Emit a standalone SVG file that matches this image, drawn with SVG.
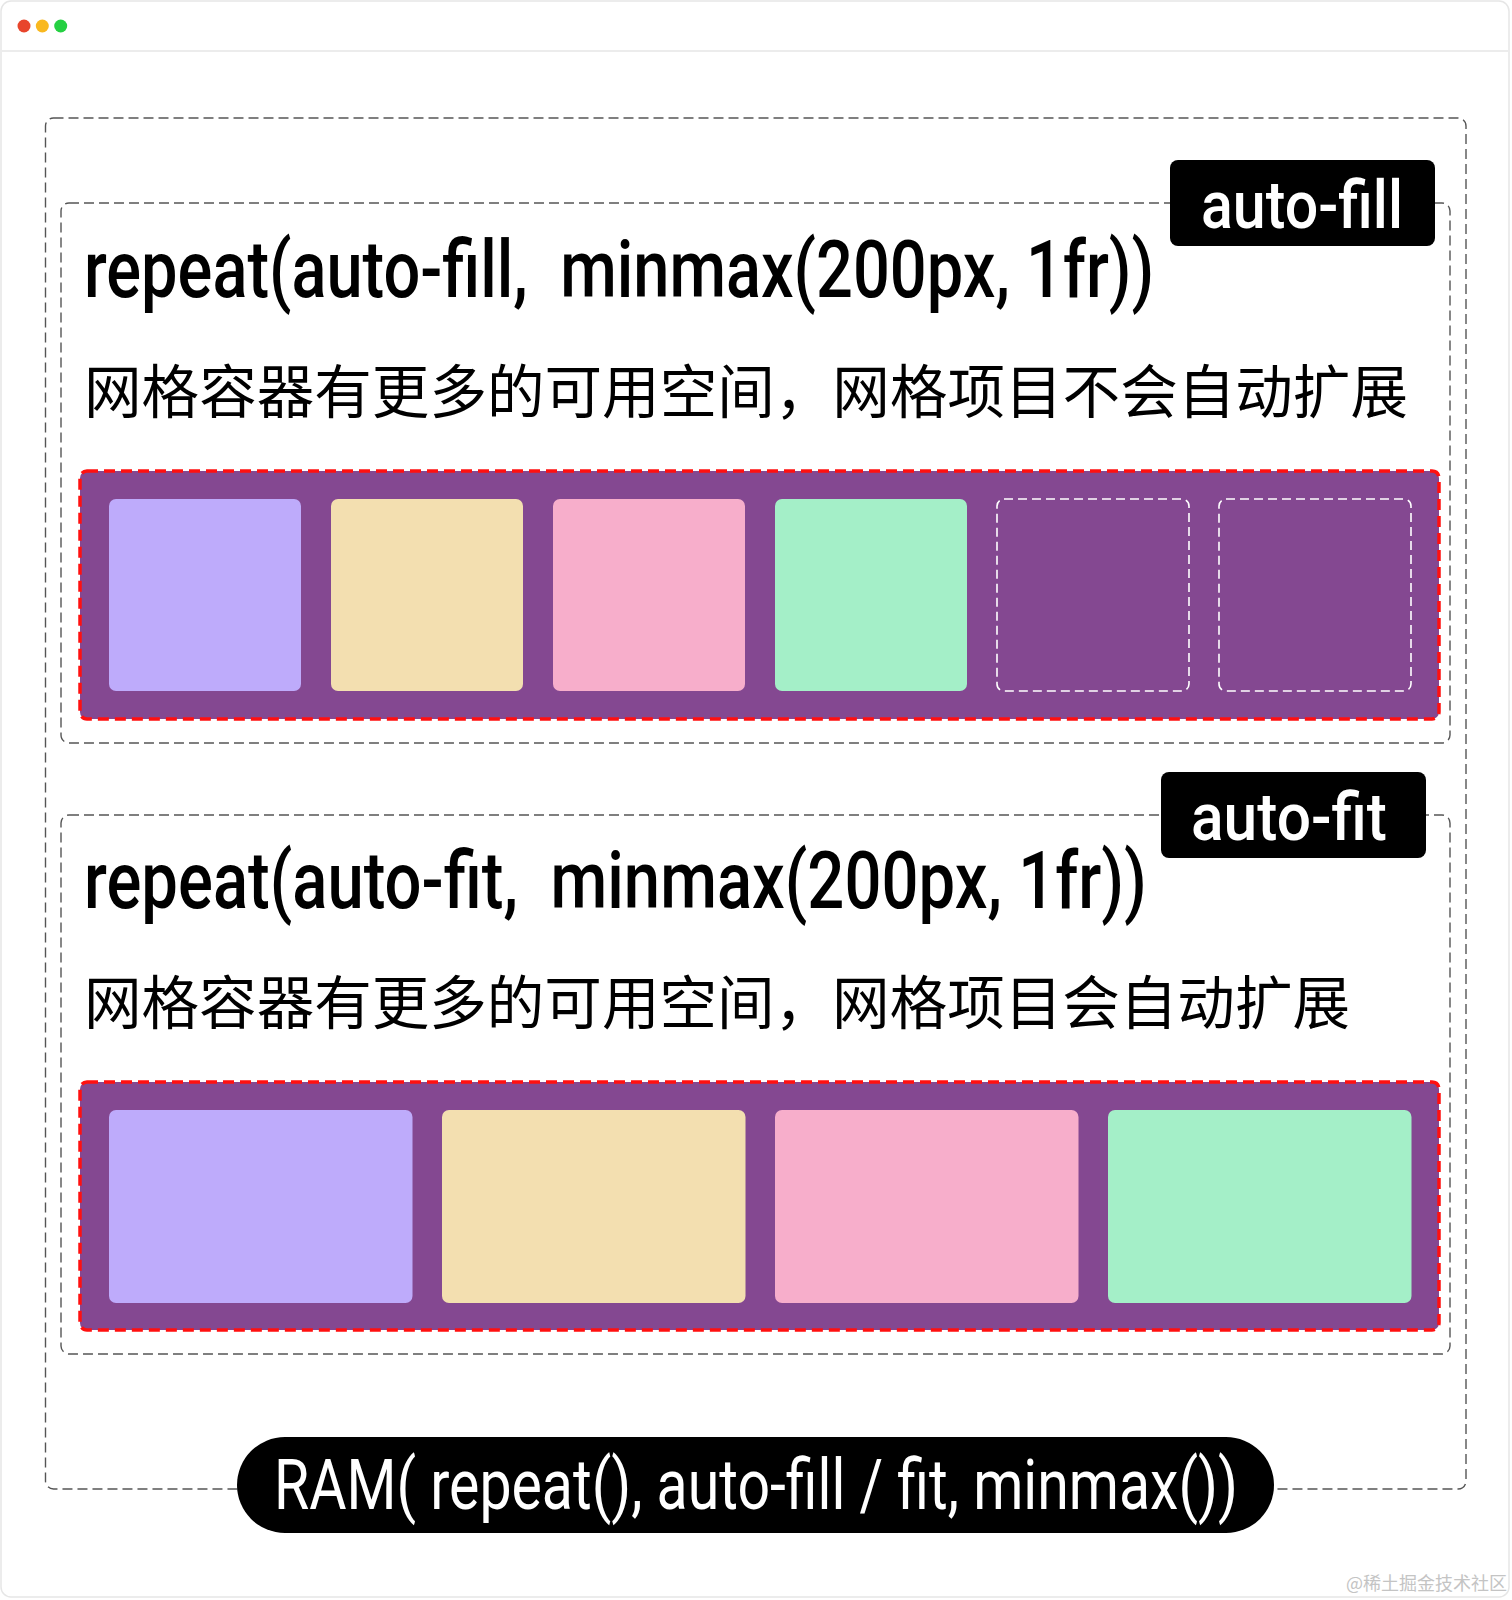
<svg xmlns="http://www.w3.org/2000/svg" width="1512" height="1600" viewBox="0 0 1512 1600">
<style>
.frame{fill:none;stroke:#555;stroke-width:1.4;stroke-dasharray:10 5}
.grid{fill:#844891;stroke:#ff1010;stroke-width:3.5;stroke-dasharray:11 6}
.cell{stroke:none}
.empty{fill:none;stroke:#fff;stroke-width:1.6;stroke-dasharray:9 5}
.c1{fill:#beabfb}.c2{fill:#f3dfb0}.c3{fill:#f7aecb}.c4{fill:#a4efc8}
.title{font-family:Roboto,"Liberation Sans",sans-serif;font-size:80px;font-weight:500;fill:#000}
.zh{font-family:"Noto Sans CJK SC","Noto Sans",sans-serif;font-size:58px;fill:#000}
.lab{font-family:Roboto,"Liberation Sans",sans-serif;font-size:66px;font-weight:500;fill:#fff}
.pill{font-family:Roboto,"Liberation Sans",sans-serif;font-size:70px;font-weight:400;fill:#fff}
</style>
<rect x="0" y="0" width="1512" height="1600" fill="#fff"/>
<g id="window">
<rect x="1" y="1" width="1508" height="1596" rx="10" fill="#fff" stroke="#e6e6e6" stroke-width="1.5"/>
<line x1="1" y1="51" x2="1509" y2="51" stroke="#ececec" stroke-width="2"/>
<circle cx="24" cy="26" r="6.5" fill="#e8452c"/>
<circle cx="42.3" cy="26" r="6.5" fill="#f9b81f"/>
<circle cx="60.7" cy="26" r="6.5" fill="#25d042"/>
</g>
<g id="outer-frame">
<rect class="frame" x="45.5" y="118" width="1420.5" height="1371" rx="8"/>
</g>
<g id="section-auto-fill">
<rect class="frame" x="61" y="203" width="1389" height="540" rx="8"/>
<text class="title" transform="translate(84,297) scale(0.822,1)" x="0" y="0" textLength="1302" lengthAdjust="spacingAndGlyphs" xml:space="preserve">repeat(auto-fill,  minmax(200px, 1fr))</text>
<text class="zh" x="84" y="413" textLength="1324" lengthAdjust="spacingAndGlyphs">网格容器有更多的可用空间，网格项目不会自动扩展</text>
<rect class="grid" x="80" y="471" width="1359" height="248" rx="7"/>
<rect class="cell c1" x="109" y="499" width="192" height="192" rx="7"/>
<rect class="cell c2" x="331" y="499" width="192" height="192" rx="7"/>
<rect class="cell c3" x="553" y="499" width="192" height="192" rx="7"/>
<rect class="cell c4" x="775" y="499" width="192" height="192" rx="7"/>
<rect class="empty" x="997" y="499" width="192" height="192" rx="7"/>
<rect class="empty" x="1219" y="499" width="192" height="192" rx="7"/>
</g>
<g id="label-auto-fill">
<rect x="1170" y="160" width="265" height="86" rx="8" fill="#000"/>
<text class="lab" transform="translate(1201,228) scale(0.916,1)" x="0" y="0" textLength="220.5" lengthAdjust="spacingAndGlyphs">auto-fill</text>
</g>
<g id="section-auto-fit">
<rect class="frame" x="61" y="815" width="1389" height="539" rx="8"/>
<text class="title" transform="translate(84,908) scale(0.822,1)" x="0" y="0" textLength="1293" lengthAdjust="spacingAndGlyphs" xml:space="preserve">repeat(auto-fit,  minmax(200px, 1fr))</text>
<text class="zh" x="84" y="1024" textLength="1266" lengthAdjust="spacingAndGlyphs">网格容器有更多的可用空间，网格项目会自动扩展</text>
<rect class="grid" x="80" y="1082" width="1359" height="248" rx="7"/>
<rect class="cell c1" x="109" y="1110" width="303.5" height="193" rx="7"/>
<rect class="cell c2" x="442" y="1110" width="303.5" height="193" rx="7"/>
<rect class="cell c3" x="775" y="1110" width="303.5" height="193" rx="7"/>
<rect class="cell c4" x="1108" y="1110" width="303.5" height="193" rx="7"/>
</g>
<g id="label-auto-fit">
<rect x="1161" y="772" width="265" height="86" rx="8" fill="#000"/>
<text class="lab" transform="translate(1191,840) scale(0.933,1)" x="0" y="0" textLength="210" lengthAdjust="spacingAndGlyphs">auto-fit</text>
</g>
<g id="summary-pill">
<rect x="237" y="1437" width="1037" height="96" rx="48" fill="#000"/>
<text class="pill" transform="translate(274,1509) scale(0.812,1)" x="0" y="0" textLength="1187" lengthAdjust="spacingAndGlyphs">RAM( repeat(), auto-fill / fit, minmax())</text>
</g>
<g id="watermark">
<text x="1346" y="1590" font-family="'Noto Sans CJK SC','Noto Sans',sans-serif" font-size="18" fill="#c4c4c4" textLength="161" lengthAdjust="spacingAndGlyphs">@稀土掘金技术社区</text>
</g>
</svg>
